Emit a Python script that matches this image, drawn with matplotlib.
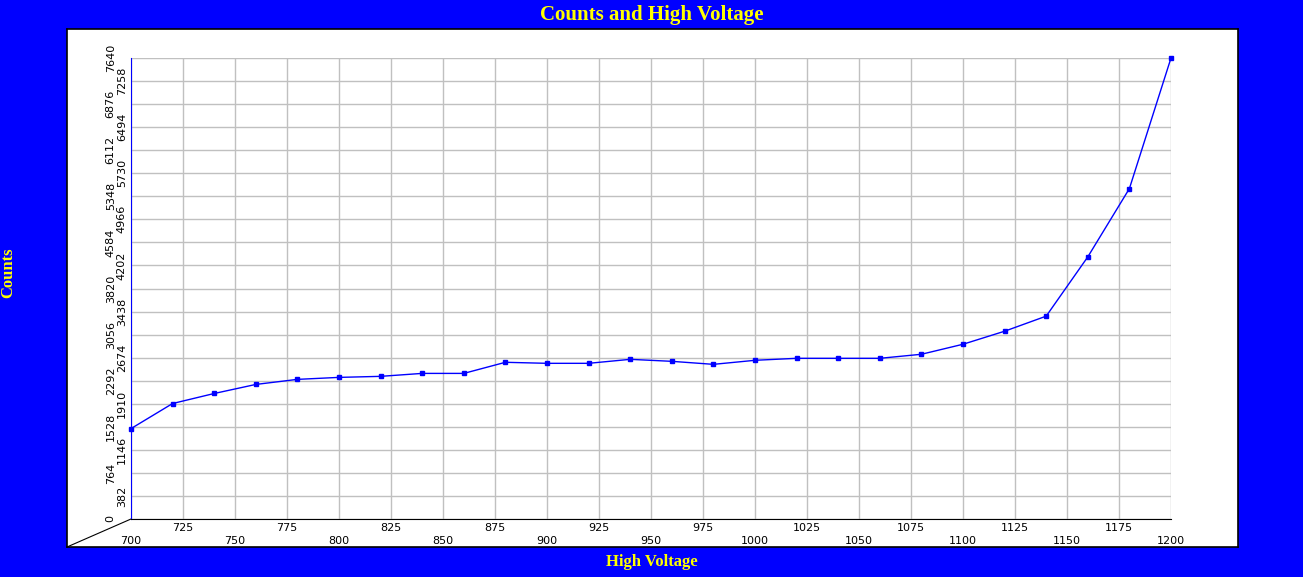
import numpy as np
import matplotlib
matplotlib.use('Agg')
import matplotlib.pyplot as plt

# data
voltage = [700, 720, 740, 760, 780, 800, 820, 840, 860, 880, 900, 920, 940,
           960, 980, 1000, 1020, 1040, 1060, 1080, 1100, 1120, 1140, 1160, 1180, 1200]
counts = [1498, 1914, 2080, 2230, 2314, 2347, 2364, 2413, 2413, 2597, 2580, 2580, 2646,
          2613, 2563, 2630, 2663, 2663, 2663, 2730, 2896, 3112, 3362, 4344, 5476, 7640]
y_ticks = [382 * i for i in range(21)]
x_ticks = list(range(700, 1201, 25))

W, H = 1303, 577
fig = plt.figure(figsize=(W / 100, H / 100), dpi=100)
fig.patch.set_facecolor('#0000FF')

# white panel
panel = fig.add_axes([67 / W, 1 - 547 / H, (1238 - 67) / W, (547 - 29) / H])
panel.set_facecolor('white')
panel.set_xticks([]); panel.set_yticks([])
for s in panel.spines.values():
    s.set_color('black'); s.set_linewidth(1.2)
panel.plot([0, (131 - 67) / (1238 - 67)], [0, (547 - 519) / (547 - 29)],
           color='black', lw=0.8, transform=panel.transAxes)

ax = fig.add_axes([131 / W, 1 - 519 / H, (1171 - 131) / W, (519 - 58) / H])
ax.set_facecolor('none')
ax.plot(voltage, counts, color='#0000FF', lw=1, marker='s', ms=3.5, clip_on=False, zorder=3)
ax.set_xlim(700, 1200)
ax.set_ylim(0, 7640)

ax.set_xticks(x_ticks[0::2])
ax.set_xticks(x_ticks[1::2], minor=True)
ax.set_yticks(y_ticks[0::2])
ax.set_yticks(y_ticks[1::2], minor=True)
ax.set_xticklabels([str(v) for v in x_ticks[0::2]])
ax.set_xticklabels([str(v) for v in x_ticks[1::2]], minor=True)
ax.set_yticklabels([str(v) for v in y_ticks[0::2]], rotation=90, va='center')
ax.set_yticklabels([str(v) for v in y_ticks[1::2]], minor=True, rotation=90, va='center')
ax.tick_params(axis='x', which='major', length=0, pad=12, labelsize=8)
ax.tick_params(axis='x', which='minor', length=0, pad=3, labelsize=8)
ax.tick_params(axis='y', which='major', length=0, pad=11, labelsize=8)
ax.tick_params(axis='y', which='minor', length=0, pad=3, labelsize=8)
ax.grid(True, which='both', color='#C0C0C0', lw=1)
ax.set_axisbelow(True)
ax.spines['top'].set_visible(False)
ax.spines['right'].set_visible(False)
ax.spines['left'].set_color('#0000FF')
ax.spines['bottom'].set_color('black')

fig.text(0.5, 1 - 15 / H, 'Counts and High Voltage', color='yellow', ha='center', va='center',
         fontsize=15, fontweight='bold', family='Liberation Serif')
fig.text(0.5, 1 - 562 / H, 'High Voltage', color='yellow', ha='center', va='center',
         fontsize=12, fontweight='bold', family='Liberation Serif')
fig.text(8 / W, 1 - 273 / H, 'Counts', color='yellow', ha='center', va='center', rotation=90,
         fontsize=12, fontweight='bold', family='Liberation Serif')

fig.savefig('out.png', dpi=100, facecolor=fig.get_facecolor())
